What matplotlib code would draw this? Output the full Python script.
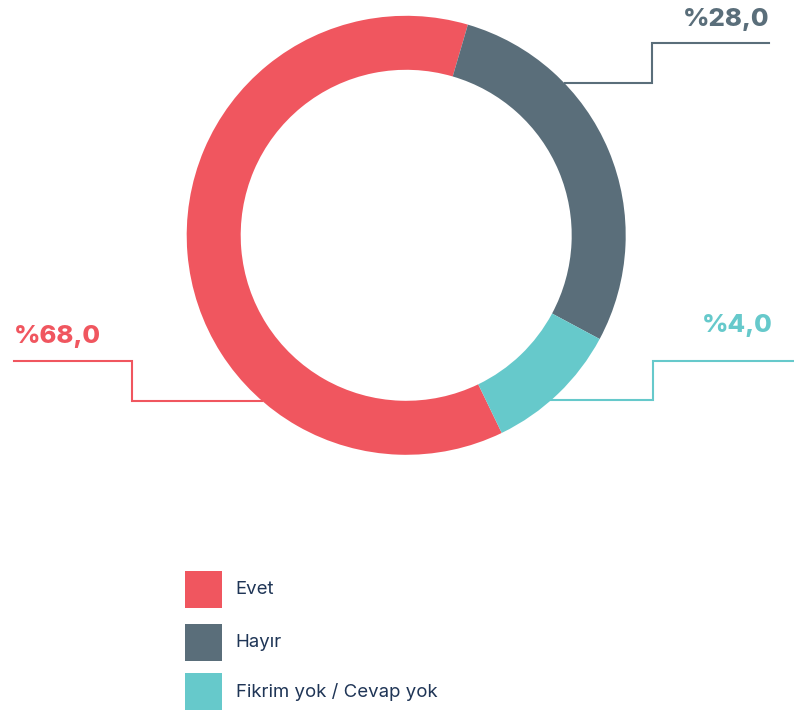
import matplotlib
matplotlib.use("Agg")
import matplotlib.pyplot as plt
from matplotlib.patches import Rectangle
import numpy as np

# ---- data ----
categories = ["Evet", "Hayır", "Fikrim yok / Cevap yok"]
values = [68.0, 28.0, 4.0]                 # printed percentages
ring_share = [61.7, 28.3, 10.0]            # arc shares as drawn in the reference ring
label_texts = ["%68,0", "%28,0", "%4,0"]
colors = ["#F0565F", "#5A6E7A", "#66C9CB"]
text_color = "#1F3556"

W, H = 794, 712
fig = plt.figure(figsize=(W / 100, H / 100), dpi=100)
ax = fig.add_axes([0, 0, 1, 1])

def Y(y):
    return H - y

cx, cy = 406.2, Y(235.3)
r_out, r_in = 219.5, 165.5

ax.pie(ring_share, colors=colors, startangle=-64.2, counterclock=False,
       center=(cx, cy), radius=r_out,
       wedgeprops=dict(width=r_out - r_in, edgecolor="none", linewidth=0))

def ring_x(y_px, side):
    dy = (H - y_px) - cy
    return cx + side * np.sqrt(r_out ** 2 - dy ** 2)

lw = 1.5
# Evet connector (left)
ax.plot([14, 132, 132, ring_x(400.7, -1)], [Y(361), Y(361), Y(400.7), Y(400.7)],
        color=colors[0], lw=lw, zorder=0, solid_joinstyle="miter")
# Hayır connector (top right)
ax.plot([ring_x(83.3, 1), 651.5, 651.5, 769], [Y(83.3), Y(83.3), Y(43.3), Y(43.3)],
        color=colors[1], lw=lw, zorder=0, solid_joinstyle="miter")
# Fikrim yok connector (right)
ax.plot([ring_x(400.2, 1), 652.7, 652.7, 794], [Y(400.2), Y(400.2), Y(360.5), Y(360.5)],
        color=colors[2], lw=lw, zorder=0, solid_joinstyle="miter")

lab_font = dict(family=["Inter", "DejaVu Sans"], fontweight=800, fontsize=18.5)
ax.text(14, Y(342.7), label_texts[0], color=colors[0], ha="left", va="baseline", **lab_font)
ax.text(769, Y(26), label_texts[1], color=colors[1], ha="right", va="baseline", **lab_font)
ax.text(773, Y(332), label_texts[2], color=colors[2], ha="right", va="baseline", **lab_font)

# legend
leg_y = [571, 624, 673.3]
for i, (cat, col) in enumerate(zip(categories, colors)):
    ax.add_patch(Rectangle((185, Y(leg_y[i] + 37)), 37, 37, facecolor=col, edgecolor="none"))
    ax.text(235.7, Y(leg_y[i] + 18.5), cat, color=text_color, ha="left", va="center",
            family=["Inter", "DejaVu Sans"], fontsize=13.4)

ax.set_xlim(0, W)
ax.set_ylim(0, H)
ax.set_aspect("auto")
ax.axis("off")

fig.savefig("out.png", dpi=100)
